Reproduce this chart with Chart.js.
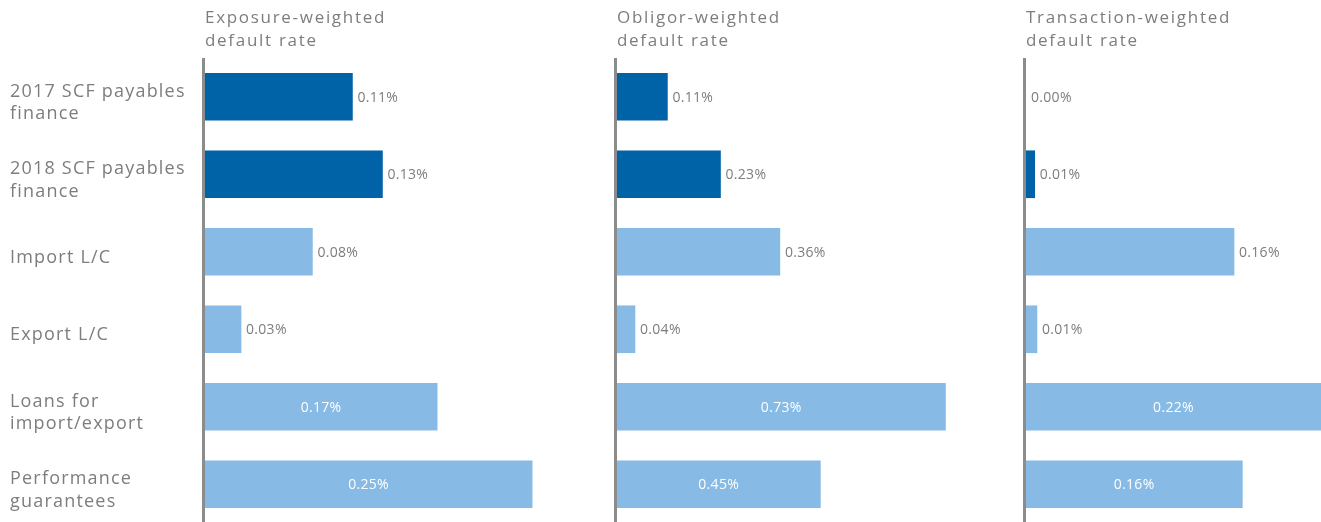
<!DOCTYPE html>
<html>
<head>
<meta charset="utf-8">
<style>
  html, body { margin: 0; padding: 0; background: #ffffff; overflow: hidden; }
  canvas { display: block; }
</style>
<script src="https://cdn.jsdelivr.net/npm/chart.js@4/dist/chart.umd.min.js"></script>
</head>
<body>
<canvas id="chart" width="1321" height="523"></canvas>
<script>
// ---------- data ----------
const categories = [
  ['2017 SCF payables', 'finance'],
  ['2018 SCF payables', 'finance'],
  'Import L/C',
  'Export L/C',
  ['Loans for', 'import/export'],
  ['Performance', 'guarantees']
];
const panelTitles = [
  ['Exposure-weighted', 'default rate'],
  ['Obligor-weighted', 'default rate'],
  ['Transaction-weighted', 'default rate']
];
// default rates in % (bar lengths; labels show 2 decimals)
const exposureWeighted    = [0.1105, 0.133, 0.0805, 0.027, 0.174, 0.2452];
const obligorWeighted     = [0.112, 0.23, 0.362, 0.04, 0.73, 0.452];
const transactionWeighted = [0, 0.0066, 0.1576, 0.0083, 0.224, 0.1639];

// ---------- style ----------
const series = [exposureWeighted, obligorWeighted, transactionWeighted];
const panelMax = [0.3088, 0.909, 0.2235];
const panelWidths = [412, 409, 295];
const darkRows = 2;              // SCF rows in dark blue
const insideLabelRows = [4, 5];  // rows whose labels sit inside the bar
const DARK = '#0063a8';
const LIGHT = '#87bae5';
const AXIS = '#8c8c8c';
const TEXT = '#7d7d7d';
const FONT = "'Open Sans', sans-serif";

const panelsPlugin = {
  id: 'panels',
  beforeDraw(chart) {
    chart.ctx.letterSpacing = '1.2px';
  },
  beforeDatasetsDraw(chart) {
    const ctx = chart.ctx, area = chart.chartArea;
    ctx.save();
    ctx.strokeStyle = AXIS;
    ctx.lineWidth = 3;
    series.forEach((_, i) => {
      const x = chart.scales['x' + i].getPixelForValue(0) - 1.5;
      ctx.beginPath();
      ctx.moveTo(x, area.top);
      ctx.lineTo(x, area.bottom + 2);
      ctx.stroke();
    });
    ctx.restore();
  },
  afterDatasetsDraw(chart) {
    const ctx = chart.ctx;
    ctx.save();
    ctx.letterSpacing = '0.3px';
    ctx.font = '14px ' + FONT;
    ctx.textBaseline = 'alphabetic';
    series.forEach((data, i) => {
      const meta = chart.getDatasetMeta(i);
      const scale = chart.scales['x' + i];
      const base = scale.getPixelForValue(0);
      meta.data.forEach((bar, j) => {
        const txt = data[j].toFixed(2) + '%';
        if (insideLabelRows.includes(j)) {
          const end = Math.min(bar.x, chart.chartArea.right);
          ctx.fillStyle = '#ffffff';
          ctx.textAlign = 'center';
          ctx.fillText(txt, (base + end) / 2, bar.y + 5);
        } else {
          ctx.fillStyle = TEXT;
          ctx.textAlign = 'left';
          ctx.fillText(txt, bar.x + 5, bar.y + 5);
        }
      });
    });
    ctx.restore();
  },
  afterDraw(chart) {
    const ctx = chart.ctx;
    ctx.save();
    ctx.letterSpacing = '1.7px';
    ctx.font = '17px ' + FONT;
    ctx.fillStyle = TEXT;
    ctx.textAlign = 'left';
    ctx.textBaseline = 'alphabetic';
    panelTitles.forEach((lines, i) => {
      const x = chart.scales['x' + i].getPixelForValue(0);
      lines.forEach((line, k) => ctx.fillText(line, x, 23 + k * 22.5));
    });
    ctx.restore();
  }
};

const scales = {
  y: {
    type: 'category',
    position: 'left',
    offset: true,
    grid: { display: false, drawTicks: false },
    border: { display: false },
    ticks: {
      color: TEXT,
      font: { family: FONT, size: 18, lineHeight: 1.25 },
      crossAlign: 'far',
      padding: 0,
      labelOffset: 6
    },
    afterFit(s) { s.width = 195; s.paddingTop = 0; s.paddingBottom = 0; }
  }
};
series.forEach((_, i) => {
  scales['x' + i] = {
    type: 'linear',
    position: 'bottom',
    stack: 'panels',
    stackWeight: panelWidths[i],
    min: 0,
    max: panelMax[i],
    offset: false,
    grid: { display: false, drawTicks: false },
    border: { display: false },
    ticks: { display: false },
    title: { display: false },
    afterFit(s) { s.height = 0; s.paddingLeft = 0; s.paddingRight = 0; }
  };
});

new Chart(document.getElementById('chart'), {
  type: 'bar',
  data: {
    labels: categories,
    datasets: series.map((data, i) => ({
      data: data,
      xAxisID: 'x' + i,
      yAxisID: 'y',
      grouped: false,
      barThickness: 47,
      borderWidth: 0,
      backgroundColor: ctx => ctx.raw === 0 ? 'rgba(0,0,0,0)' : (ctx.dataIndex < darkRows ? DARK : LIGHT)
    }))
  },
  options: {
    indexAxis: 'y',
    responsive: false,
    animation: false,
    layout: { autoPadding: false, padding: { left: 10, top: 58, right: 0, bottom: 0 } },
    plugins: { legend: { display: false }, tooltip: { enabled: false } },
    scales: scales
  },
  plugins: [panelsPlugin]
});
</script>
</body>
</html>
